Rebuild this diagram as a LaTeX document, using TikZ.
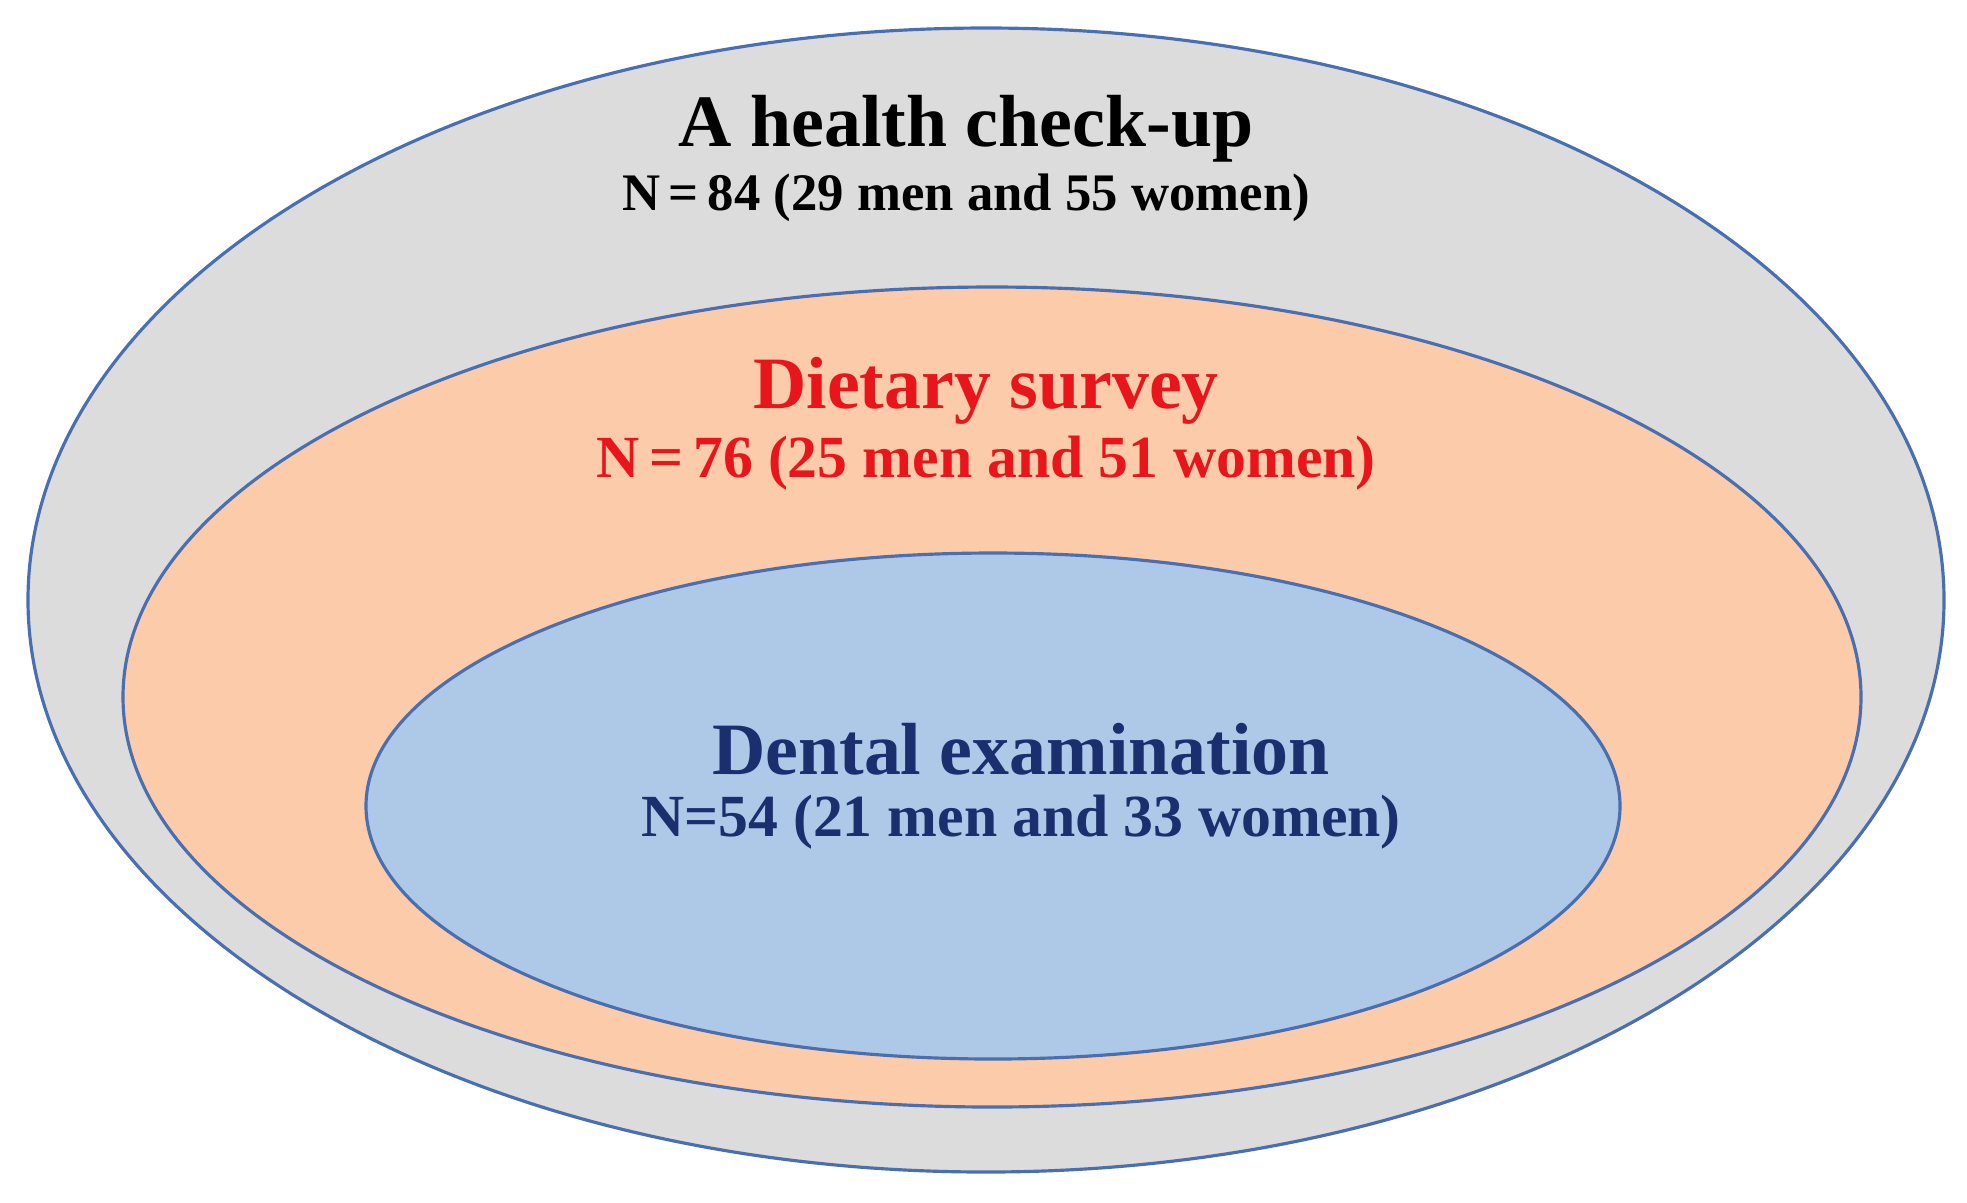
\documentclass[tikz,border=0pt]{standalone}
\usepackage{fontspec}
\setmainfont{Liberation Serif}
\definecolor{gr}{HTML}{DCDCDC}
\definecolor{og}{HTML}{FCCBAA}
\definecolor{bl}{HTML}{AEC8E8}
\definecolor{ln}{HTML}{4A6FB0}
\definecolor{rd}{HTML}{E8161B}
\definecolor{db}{HTML}{1B2F6E}
\begin{document}
\begin{tikzpicture}[x=0.01cm,y=-0.01cm,
  ring/.style={draw=ln,line width=0.9pt},
  ttl/.style={font=\fontsize{21}{25}\selectfont\bfseries},
  sub/.style={font=\fontsize{15}{18}\selectfont\bfseries}]
\useasboundingbox (0,0) rectangle (1967,1202);
\fill[white] (0,0) rectangle (1967,1202);
\draw[ring,fill=gr] (986,600) ellipse [x radius=958,y radius=572];
\draw[ring,fill=og] (992,697) ellipse [x radius=869,y radius=410];
\draw[ring,fill=bl] (993,806) ellipse [x radius=627,y radius=253];
\node[ttl] (t1) at (966,129) {A health check-up};
\node[sub] (s1) at (966,198) {N\,=\,84 (29 men and 55 women)};
\node[ttl,text=rd] (t2) at (986,391) {Dietary survey};
\node[sub,text=rd,font=\fontsize{17}{20}\selectfont\bfseries] (s2) at (986,463) {N\,=\,76 (25 men and 51 women)};
\node[ttl,text=db] (t3) at (1021,749) {Dental examination};
\node[sub,text=db,font=\fontsize{17}{20}\selectfont\bfseries] (s3) at (1021,822) {N=54 (21 men and 33 women)};
\end{tikzpicture}
\end{document}
